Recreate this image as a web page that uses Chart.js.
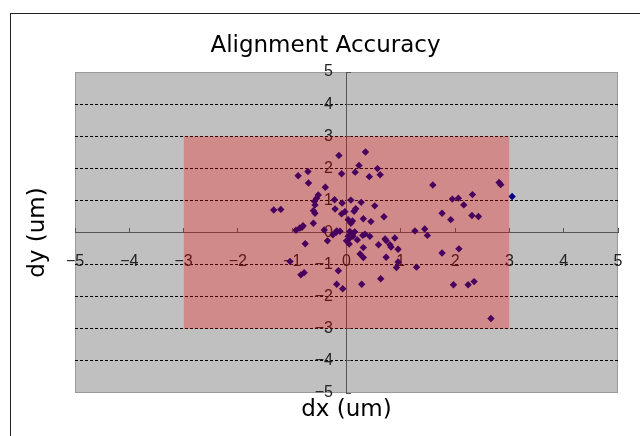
<!DOCTYPE html>
<html>
<head>
<meta charset="utf-8">
<title>Alignment Accuracy</title>
<script src="https://cdn.jsdelivr.net/npm/chart.js@4.4.1/dist/chart.umd.min.js"></script>
<style>
    body { margin: 0; background: #fff; }
    #wrap { position: relative; width: 640px; height: 436px; overflow: hidden; }
    #frame {
        position: absolute; left: 10px; top: 13px; width: 700px; height: 500px;
        border-left: 1px solid #222; border-top: 1px solid #222; pointer-events: none;
    }
</style>
</head>
<body>
<div id="wrap">
    <canvas id="chart-align" width="640" height="436"></canvas>
    <div id="frame"></div>
</div>
<script>
    // measured offsets of each die (um)
    const dx = [
        -0.14, 0.35, 0.23, 0.57, -0.71, 0.16, -0.09, 0.62, -0.89, 0.42,
        -0.70, -0.39, -0.52, -0.55, -0.22, 0.08, -0.59, 0.27, -0.08, -0.58,
        0.52, 0.17, -0.21, -1.21, -1.34, -0.61, 0.14, -0.03, -0.58, -0.09,
        0.69, 0.31, 0.03, 0.11, 0.45, 0.08, -0.61, -0.80, -0.82, -0.86,
        -0.93, -0.41, -0.18, -0.12, -0.25, 0.06, 1.59, 2.81, 2.84, 1.95,
        2.06, 2.32, 2.16, 1.76, 1.92, 2.31, 2.43, 1.26, 1.44, 1.49,
        1.76, 2.07, 1.29, 1.97, 2.24, 2.35, 2.66, 0.03, 0.06, 0.10,
        0.12, 0.30, 0.34, 0.43, 0.71, 0.89, 0.20, 0.05, 0.00, -0.35,
        -0.76, 0.31, 0.25, 0.31, 0.59, 0.73, 0.80, 0.82, 0.95, 0.73,
        0.95, 0.92, -1.04, -0.84, -0.78, -0.15, -0.18, -0.07, 0.28, 0.63,
        -0.19, 0.15, 3.05
    ];
    const dy = [
        2.40, 2.51, 2.09, 1.99, 1.90, 1.88, 1.83, 1.80, 1.77, 1.74,
        1.54, 1.41, 1.17, 1.07, 1.02, 1.01, 0.97, 0.94, 0.92, 0.86,
        0.83, 0.74, 0.73, 0.72, 0.70, 0.68, 0.66, 0.65, 0.60, 0.58,
        0.49, 0.43, 0.40, 0.36, 0.34, 0.29, 0.29, 0.21, 0.16, 0.14,
        0.07, 0.08, 0.05, 0.04, -0.07, 0.03, 1.48, 1.56, 1.49, 1.04,
        1.07, 1.18, 0.86, 0.60, 0.40, 0.53, 0.50, 0.05, 0.11, -0.09,
        -0.64, -0.51, -1.08, -1.63, -1.63, -1.53, -2.68, -0.12, -0.17, -0.07,
        -0.12, -0.09, -0.05, -0.12, -0.20, -0.17, -0.23, -0.36, -0.26, -0.26,
        -0.35, -0.47, -0.67, -0.78, -0.38, -0.25, -0.38, -0.45, -0.52, -0.77,
        -0.92, -1.09, -0.90, -1.32, -1.25, -1.19, -1.61, -1.75, -1.61, -1.44,
        0.01, 0.02, 1.12
    ];
    // spec window (um)
    const specX = [-3, 3];
    const specY = [-3, 3];
    // axis range and tick step
    const axisRange = [-5, 5];
    const axisStep = 1;

    const tickFont = { family: 'Liberation Sans', size: 16 };
    const titleFont = { family: 'DejaVu Sans', size: 23 };

    function tickLabel(v) {
        return v < 0 ? '\u2212' + (-v) : String(v);
    }

    const plotBg = {
        id: 'plotBg',
        beforeDraw: function (chart) {
            const ctx = chart.ctx;
            const a = chart.chartArea;
            ctx.save();
            ctx.fillStyle = '#c0c0c0';
            ctx.fillRect(a.left, a.top, a.right - a.left, a.bottom - a.top);
            ctx.strokeStyle = '#9a9a9a';
            ctx.lineWidth = 1;
            ctx.strokeRect(a.left + 0.5, a.top + 0.5, a.right - a.left - 1, a.bottom - a.top - 1);
            ctx.restore();
        }
    };

    const points = dx.map(function (x, i) {
        return { x: x, y: dy[i] };
    });

    // a scale with nothing drawn, options in extra switch parts on
    function blankScale(pos, extra) {
        return Object.assign({
            type: 'linear',
            position: pos,
            min: axisRange[0],
            max: axisRange[1],
            ticks: { display: false },
            grid: { display: false, drawTicks: false },
            border: { display: false }
        }, extra);
    }

    const labelTicks = {
        display: true,
        stepSize: axisStep,
        font: tickFont,
        color: '#222',
        padding: 0,
        maxRotation: 0,
        callback: tickLabel
    };

    const config = {
        type: 'scatter',
        data: {
            datasets: [{
                // spec window, semi transparent so it tints what is under it
                type: 'line',
                data: [{ x: specX[0], y: specY[1] }, { x: specX[1], y: specY[1] }],
                fill: { value: specY[0] },
                backgroundColor: 'rgba(255, 0, 0, 0.28)',
                borderColor: 'transparent',
                borderWidth: 0,
                pointRadius: 0,
                tension: 0,
                xAxisID: 'x',
                yAxisID: 'y',
                order: 0
            }, {
                label: 'offset',
                data: points,
                pointStyle: 'rectRot',
                pointRadius: 3.7,
                backgroundColor: '#000080',
                borderColor: '#000080',
                borderWidth: 0,
                xAxisID: 'x',
                yAxisID: 'y',
                order: 1
            }]
        },
        options: {
            responsive: false,
            animation: false,
            events: [],
            layout: {
                autoPadding: false,
                padding: { left: 11, right: 0, top: 0, bottom: 0 }
            },
            scales: {
                x: {
                    type: 'linear',
                    position: { y: 0 },
                    min: axisRange[0],
                    max: axisRange[1],
                    ticks: { stepSize: axisStep, display: false },
                    grid: {
                        display: true,
                        drawOnChartArea: false,
                        drawTicks: true,
                        tickLength: -5,
                        tickColor: '#555'
                    },
                    border: { display: true, color: '#555', width: 1 }
                },
                y: {
                    type: 'linear',
                    position: { x: 0 },
                    min: axisRange[0],
                    max: axisRange[1],
                    ticks: { stepSize: axisStep, display: false },
                    grid: {
                        display: true,
                        drawOnChartArea: true,
                        drawTicks: true,
                        tickLength: -5,
                        tickColor: '#555',
                        lineWidth: 1,
                        color: function (c) {
                            const v = c.tick ? c.tick.value : 0;
                            return (v === 0 || v === axisRange[0] || v === axisRange[1]) ? 'transparent' : '#000';
                        }
                    },
                    border: { display: true, color: '#555', width: 1, dash: [3, 2] }
                },
                // tick labels, set a little off the axis lines as in the original
                xLabels: blankScale({ y: -0.61 }, { ticks: labelTicks }),
                yLabels: blankScale({ x: -0.25 }, { ticks: labelTicks }),
                x2: blankScale('bottom', {
                    title: {
                        display: true,
                        text: 'dx (um)',
                        font: titleFont,
                        color: '#000',
                        padding: { top: 0, bottom: 12 }
                    },
                    afterFit: function (scale) { scale.height = 43; }
                }),
                y2: blankScale('left', {
                    title: {
                        display: true,
                        text: 'dy (um)',
                        font: titleFont,
                        color: '#000',
                        padding: { top: 13, bottom: 0 }
                    },
                    afterFit: function (scale) { scale.width = 64; }
                }),
                yR: blankScale('right', {
                    afterFit: function (scale) { scale.width = 22; }
                })
            },
            plugins: {
                legend: { display: false },
                tooltip: { enabled: false },
                title: {
                    display: true,
                    text: 'Alignment Accuracy',
                    font: { family: 'DejaVu Sans', size: 23, weight: 'normal' },
                    color: '#000',
                    padding: { top: 32, bottom: 12.4 }
                }
            }
        },
        plugins: [plotBg]
    };

    const myChart = new Chart(document.getElementById('chart-align'), config);
</script>
</body>
</html>
